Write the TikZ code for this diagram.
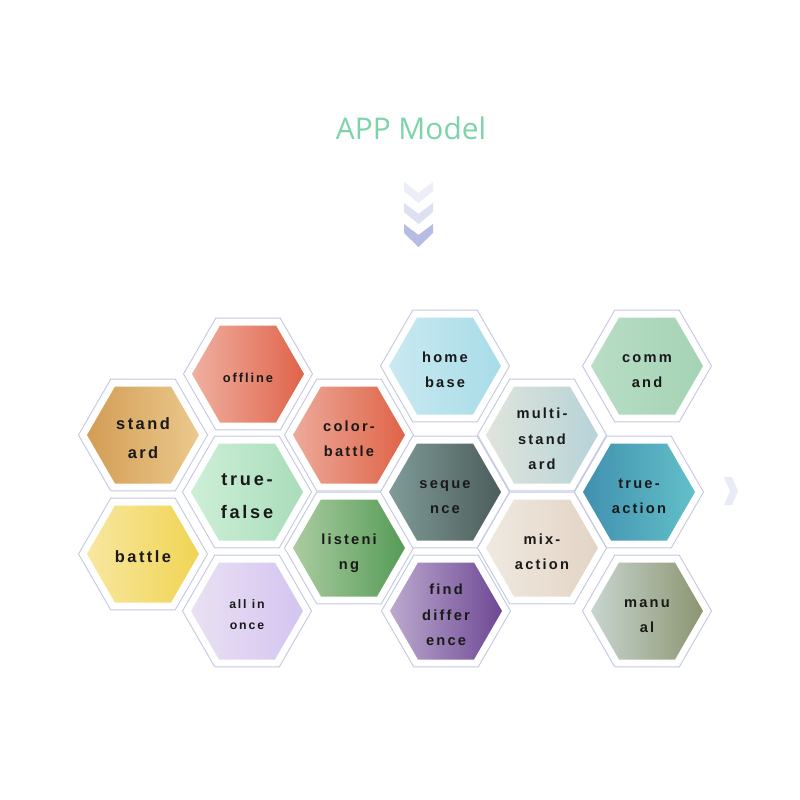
\documentclass[tikz,border=0pt]{standalone}
\usepackage{fontspec}
\usepackage{tikz}
\usetikzlibrary{shapes.geometric}
\newfontfamily\titlefont{Open Sans}
\newfontfamily\hexfont[LetterSpace=15]{Liberation Sans}
\definecolor{ringline}{HTML}{C4C9E1}
\definecolor{titlegreen}{HTML}{7DD4A9}
\definecolor{chevA}{HTML}{ECEEF7}
\definecolor{chevB}{HTML}{DDE0F1}
\definecolor{chevC}{HTML}{B6BCE2}
\definecolor{chevR}{HTML}{E8EAF5}
\newcommand{\hexname}[1]{\smash{\raisebox{-6.3pt}{\begin{tabular}{@{}c@{}}#1\end{tabular}}}}

\begin{document}
\begin{tikzpicture}[x=0.03cm,y=-0.03cm,
	hexring/.style={regular polygon, regular polygon sides=6, minimum size=3.87cm, inner sep=0pt, draw=ringline, line width=0.8pt, fill=white},
	hexcell/.style={regular polygon, regular polygon sides=6, minimum size=3.36cm, inner sep=0pt, text=black!90, font=\hexfont\bfseries\fontsize{12.5}{22}\selectfont},
	hexbig/.style={font=\hexfont\bfseries\fontsize{14}{24.5}\selectfont},
	hexhuge/.style={font=\hexfont\bfseries\fontsize{15.5}{28}\selectfont},
	hexsmall/.style={font=\hexfont\bfseries\fontsize{11}{18}\selectfont},
	hextiny/.style={font=\hexfont\bfseries\fontsize{10.5}{18}\selectfont}]
		\useasboundingbox[fill=white] (0,0) rectangle (800,800);
		\node[font=\titlefont\fontsize{25.5}{30}\selectfont, text=titlegreen] (title) at (411,128) {APP Model};
		\fill[chevA] (404,182) -- (418.5,193) -- (433,182) -- (433,191) -- (418.5,203) -- (404,191) -- cycle;
		\fill[chevB] (404,203) -- (418.5,214) -- (433,203) -- (433,212) -- (418.5,224) -- (404,212) -- cycle;
		\fill[chevC] (404,224) -- (418.5,235) -- (433,224) -- (433,233) -- (418.5,247) -- (404,233) -- cycle;
		\fill[chevR] (724,477) -- (732,477) -- (738,491) -- (732,505) -- (724,505) -- (730,491) -- cycle;
		\node[hexring] (r-stand) at (143,435) {};
		\node[hexring] (r-battle) at (143,554) {};
		\node[hexring] (r-offline) at (248,374) {};
		\node[hexring] (r-truefalse) at (247,492) {};
		\node[hexring] (r-allinonce) at (247,611) {};
		\node[hexring] (r-colorbattle) at (349,435) {};
		\node[hexring] (r-listening) at (349,548) {};
		\node[hexring] (r-homebase) at (445,366) {};
		\node[hexring] (r-sequence) at (445,492) {};
		\node[hexring] (r-finddiff) at (446,611) {};
		\node[hexring] (r-multistand) at (542,435) {};
		\node[hexring] (r-mixaction) at (542,548) {};
		\node[hexring] (r-command) at (647,366) {};
		\node[hexring] (r-trueaction) at (639,492) {};
		\node[hexring] (r-manual) at (647,611) {};
		\node[hexcell, hexbig, left color={rgb,255:red,211;green,157;blue,85}, right color={rgb,255:red,235;green,201;blue,140}] (stand) at (r-stand) {\hexname{stand\\ard}};
		\node[hexcell, hexbig, left color={rgb,255:red,247;green,231;blue,160}, right color={rgb,255:red,241;green,212;blue,83}] (battle) at (r-battle) {\hexname{battle}};
		\node[hexcell, hexsmall, left color={rgb,255:red,239;green,176;blue,160}, right color={rgb,255:red,224;green,99;blue,74}] (offline) at (r-offline) {\hexname{offline}};
		\node[hexcell, hexhuge, left color={rgb,255:red,205;green,239;blue,215}, right color={rgb,255:red,169;green,220;blue,187}] (truefalse) at (r-truefalse) {\hexname{true-\\false}};
		\node[hexcell, hextiny, left color={rgb,255:red,234;green,225;blue,242}, right color={rgb,255:red,212;green,196;blue,241}] (allinonce) at (r-allinonce) {\hexname{all in\\once}};
		\node[hexcell, left color={rgb,255:red,237;green,170;blue,154}, right color={rgb,255:red,223;green,99;blue,71}] (colorbattle) at (r-colorbattle) {\hexname{color-\\battle}};
		\node[hexcell, left color={rgb,255:red,171;green,204;blue,160}, right color={rgb,255:red,85;green,155;blue,87}] (listening) at (r-listening) {\hexname{listeni\\ng}};
		\node[hexcell, left color={rgb,255:red,202;green,233;blue,240}, right color={rgb,255:red,167;green,220;blue,232}] (homebase) at (r-homebase) {\hexname{home\\base}};
		\node[hexcell, left color={rgb,255:red,127;green,155;blue,153}, right color={rgb,255:red,76;green,93;blue,90}] (sequence) at (r-sequence) {\hexname{seque\\nce}};
		\node[hexcell, left color={rgb,255:red,188;green,169;blue,206}, right color={rgb,255:red,109;green,72;blue,148}] (finddiff) at (r-finddiff) {\hexname{find\\differ\\ence}};
		\node[hexcell, left color={rgb,255:red,224;green,228;blue,220}, right color={rgb,255:red,182;green,211;blue,216}] (multistand) at (r-multistand) {\hexname{multi-\\stand\\ard}};
		\node[hexcell, left color={rgb,255:red,239;green,233;blue,224}, right color={rgb,255:red,227;green,212;blue,197}] (mixaction) at (r-mixaction) {\hexname{mix-\\action}};
		\node[hexcell, left color={rgb,255:red,184;green,222;blue,198}, right color={rgb,255:red,165;green,210;blue,180}] (command) at (r-command) {\hexname{comm\\and}};
		\node[hexcell, left color={rgb,255:red,65;green,144;blue,175}, right color={rgb,255:red,98;green,192;blue,201}] (trueaction) at (r-trueaction) {\hexname{true-\\action}};
		\node[hexcell, left color={rgb,255:red,200;green,213;blue,207}, right color={rgb,255:red,139;green,149;blue,113}] (manual) at (r-manual) {\hexname{manu\\al}};
	\end{tikzpicture}
\end{document}
